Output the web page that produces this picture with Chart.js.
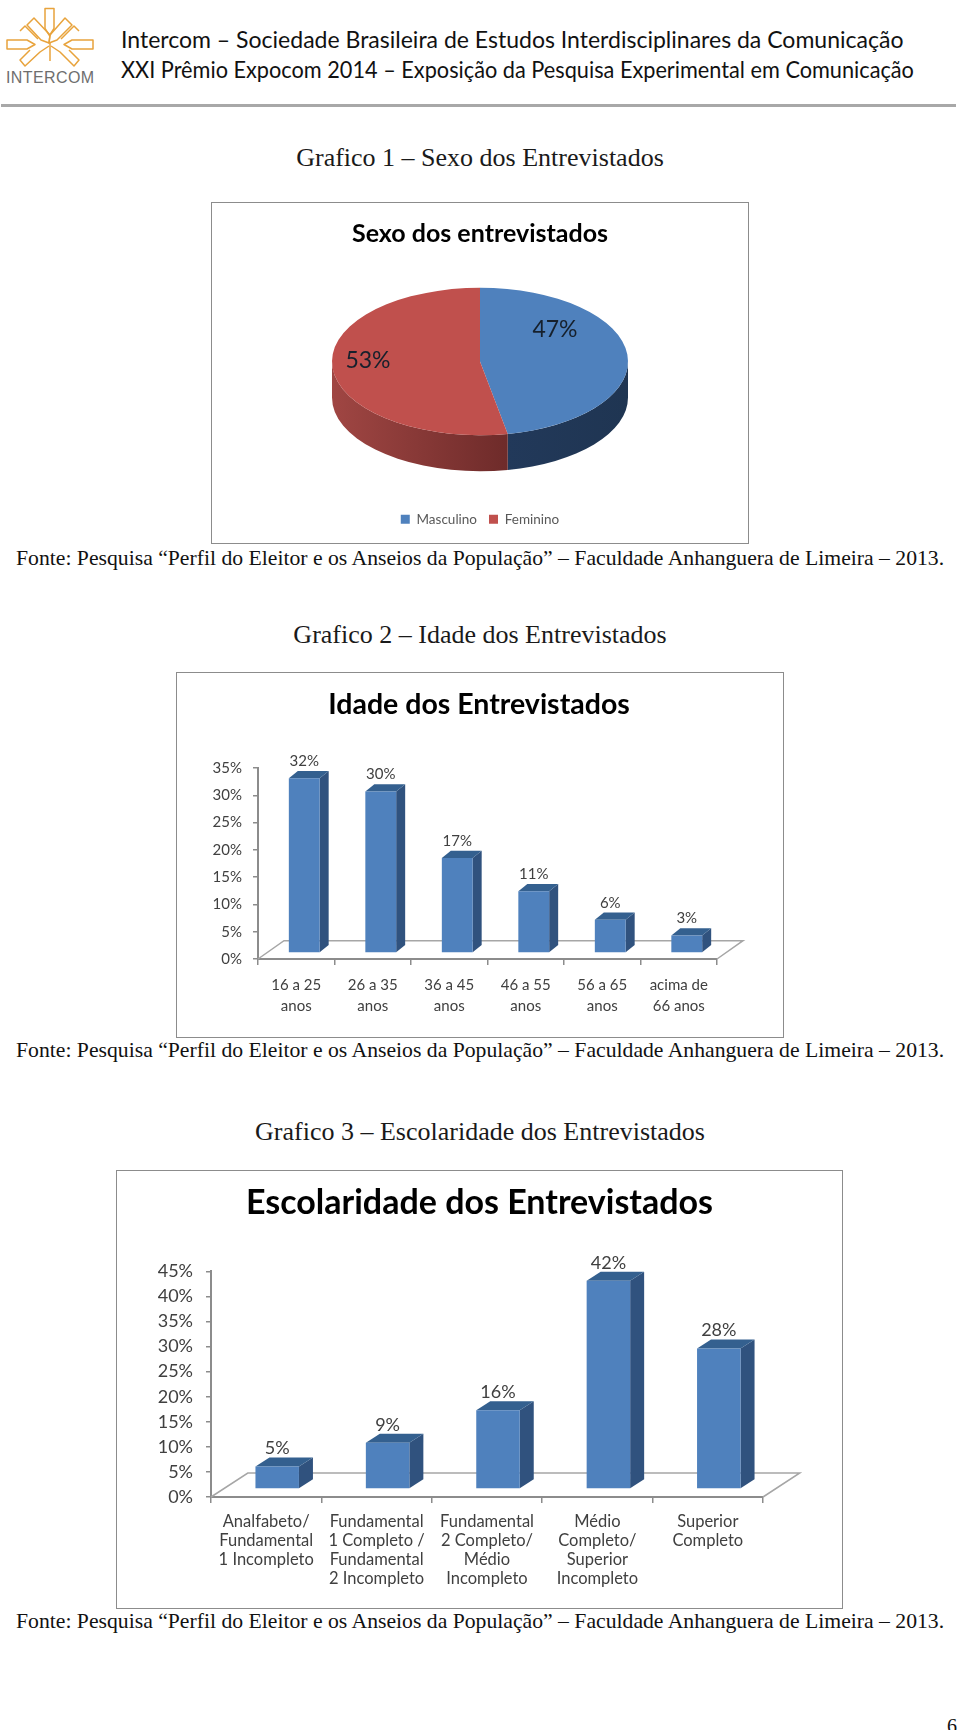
<!DOCTYPE html>
<html>
<head>
<meta charset="utf-8">
<title>Graficos</title>
<script src="https://cdn.jsdelivr.net/npm/chart.js@4"></script>
<style>
  html, body { margin: 0; padding: 0; background: #fff; }
  body { position: relative; width: 960px; height: 1730px; overflow: hidden; }
  .txt { position: absolute; white-space: nowrap; line-height: 1; }
  .head { font-family: Lato, sans-serif; font-size: 22.5px; color: #111; left: 121px; transform-origin: left center; }
  .cap { font-family: "Liberation Serif", serif; font-size: 26px; color: #1a1a1a; left: 0; width: 960px; text-align: center; }
  .src { font-family: "Liberation Serif", serif; font-size: 21.7px; color: #111; left: 16px; }
  .box { position: absolute; border: 1.5px solid #8c8c8c; box-sizing: border-box; background: #fff; }
  .box canvas { position: absolute; left: -1.5px; top: -1.5px; }
  #rule { position: absolute; left: 1px; top: 104px; width: 955px; height: 3px; background: #a8a8a8; }
</style>
</head>
<body>
<svg style="position:absolute;left:0;top:0" width="110" height="70" fill="none" stroke="#e8a33c" stroke-width="1.5" stroke-linejoin="round">
  <path d="M45 8.5h9v20l-4.5 7l-4.5-7z"/>
  <path d="M7 40h20l8 4.5l-8 4.5h-20z"/>
  <path d="M93 40h-21l-8 4.5l8 4.5h21z"/>
  <path d="M27 25l7-7l16 17l-1 8l-8-3z"/>
  <path d="M72 25l-7-7l-15 17l-1 8l8-3z"/>
  <path d="M20 31l5-5l13 13"/>
  <path d="M79 31l-5-5l-13 13"/>
  <path d="M49 46l-9 6l-15 14l-5-6l10-10"/>
  <path d="M51 46l9 6l14 14l5-6l-10-10"/>
  <path d="M50 43v18"/>
</svg>
<div class="txt" style="left:6px;top:69px;font:16px 'Liberation Sans',sans-serif;color:#6e6e6e;letter-spacing:.4px">INTERCOM</div>
<div class="txt head" style="top:29px;transform:scaleX(1.023)">Intercom – Sociedade Brasileira de Estudos Interdisciplinares da Comunicação</div>
<div class="txt head" style="top:59px;transform:scaleX(.965)">XXI Prêmio Expocom 2014 – Exposição da Pesquisa Experimental em Comunicação</div>
<div id="rule"></div>

<div class="txt cap" style="top:145px">Grafico 1 – Sexo dos Entrevistados</div>
<div class="box" style="left:210.5px;top:202px;width:538px;height:342px"><canvas id="c1" width="538" height="342"></canvas></div>
<div class="txt src" style="top:548px">Fonte: Pesquisa “Perfil do Eleitor e os Anseios da População” – Faculdade Anhanguera de Limeira – 2013.</div>

<div class="txt cap" style="top:622px">Grafico 2 – Idade dos Entrevistados</div>
<div class="box" style="left:175.5px;top:672px;width:608px;height:366px"><canvas id="c2" width="608" height="366"></canvas></div>
<div class="txt src" style="top:1040px">Fonte: Pesquisa “Perfil do Eleitor e os Anseios da População” – Faculdade Anhanguera de Limeira – 2013.</div>

<div class="txt cap" style="top:1119px">Grafico 3 – Escolaridade dos Entrevistados</div>
<div class="box" style="left:116px;top:1170px;width:727px;height:439px"><canvas id="c3" width="727" height="439"></canvas></div>
<div class="txt src" style="top:1611px">Fonte: Pesquisa “Perfil do Eleitor e os Anseios da População” – Faculdade Anhanguera de Limeira – 2013.</div>

<div class="txt" style="right:3px;top:1715px;font:20px 'Liberation Serif',serif;color:#111">6</div>

<script>
// values
const sexoLabels = ["Masculino", "Feminino"];
const sexoValues = [47, 53];

const idadeLabels = [["16 a 25", "anos"], ["26 a 35", "anos"], ["36 a 45", "anos"], ["46 a 55", "anos"], ["56 a 65", "anos"], ["acima de", "66 anos"]];
const idadeValues = [32, 29.6, 17.4, 11.3, 6.1, 3.2];

const escolaLabels = [
  ["Analfabeto/", "Fundamental", "1 Incompleto"],
  ["Fundamental", "1 Completo /", "Fundamental", "2 Incompleto"],
  ["Fundamental", "2 Completo/", "Médio", "Incompleto"],
  ["Médio", "Completo/", "Superior", "Incompleto"],
  ["Superior", "Completo"]
];
const escolaValues = [4.5, 9.2, 15.7, 41.5, 28];

const BLUE = "#4f81bd", BLUE_TOP = "#34608f", BLUE_SIDE = "#30527e";
const RED = "#c0504d";
const AXIS = "#8c8c8c", TEXT = "#404040";
const FONT = "Lato, sans-serif";

Chart.defaults.animation = false;
Chart.defaults.responsive = false;
Chart.defaults.font.family = FONT;

// fake 3d for the pie: squash it and draw the rim under it
const pie3d = {
  id: "pie3d",
  beforeDatasetsDraw(chart, args, opts) {
    const arcs = chart.getDatasetMeta(0).data;
    const cx = arcs[0].x, r = arcs[0].outerRadius;
    const ctx = chart.ctx;
    const cols = [["#1f3552", "#22395a"], ["#6e2b2a", "#a04643"]];
    arcs.forEach((a, i) => {
      // only the front half of the rim shows, Chart.js angles start at 3 o'clock
      const s = Math.max(a.startAngle, 0), e = Math.min(a.endAngle, Math.PI);
      if (e <= s) return;
      const g = ctx.createLinearGradient(cx + r * Math.cos(s), 0, cx + r * Math.cos(e), 0);
      g.addColorStop(0, cols[i][0]);
      g.addColorStop(1, cols[i][1]);
      ctx.save();
      ctx.fillStyle = g;
      ctx.beginPath();
      ctx.ellipse(cx, opts.cy, r, r * opts.squash, 0, s, e);
      ctx.ellipse(cx, opts.cy + opts.depth, r, r * opts.squash, 0, e, s, true);
      ctx.closePath();
      ctx.fill();
      ctx.restore();
    });
    ctx.save();
    ctx.translate(cx, opts.cy);
    ctx.scale(1, opts.squash);
    ctx.translate(-cx, -arcs[0].y);
  },
  afterDatasetsDraw(chart, args, opts) {
    const ctx = chart.ctx;
    ctx.restore();
    const a = chart.getDatasetMeta(0).data[0];
    ctx.save();
    ctx.font = opts.labelFont;
    ctx.fillStyle = "#16202c";
    ctx.textAlign = "center";
    ctx.textBaseline = "middle";
    sexoValues.forEach((v, i) => {
      ctx.fillText(v + "%", a.x + opts.labelOffsets[i][0], opts.cy + opts.labelOffsets[i][1]);
    });
    ctx.restore();
  }
};

// fake 3d for the bars: floor behind, sides and tops added to each bar
const bar3d = {
  id: "bar3d",
  afterLayout(chart) {
    // the right padding must not pull the title off centre
    chart.titleBlock.left = 0;
    chart.titleBlock.right = chart.width;
  },
  beforeDatasetsDraw(chart, args, opts) {
    const ctx = chart.ctx, x = chart.scales.x, y0 = chart.scales.y.getPixelForValue(0);
    ctx.save();
    ctx.strokeStyle = "#a6a6a6";
    ctx.lineWidth = 1.5;
    ctx.beginPath();
    ctx.moveTo(x.left, y0);
    ctx.lineTo(x.left + opts.floor[0], y0 - opts.floor[1]);
    ctx.lineTo(x.right + opts.floor[0], y0 - opts.floor[1]);
    ctx.lineTo(x.right, y0);
    ctx.stroke();
    ctx.restore();
    ctx.save();
    ctx.translate(opts.shift[0], -opts.shift[1]);
    chart.getDatasetMeta(0).data.forEach((b) => {
      const l = b.x - b.width / 2, r = b.x + b.width / 2;
      const dx = opts.depth[0], dy = opts.depth[1];
      ctx.fillStyle = BLUE_SIDE;
      ctx.beginPath();
      ctx.moveTo(r, b.y);
      ctx.lineTo(r + dx, b.y - dy);
      ctx.lineTo(r + dx, b.base - dy);
      ctx.lineTo(r, b.base);
      ctx.closePath();
      ctx.fill();
      ctx.fillStyle = BLUE_TOP;
      ctx.beginPath();
      ctx.moveTo(l, b.y);
      ctx.lineTo(l + dx, b.y - dy);
      ctx.lineTo(r + dx, b.y - dy);
      ctx.lineTo(r, b.y);
      ctx.closePath();
      ctx.fill();
    });
  },
  afterDatasetsDraw(chart, args, opts) {
    const ctx = chart.ctx;
    ctx.restore();
    ctx.save();
    ctx.font = opts.labelFont;
    ctx.fillStyle = TEXT;
    ctx.textAlign = "center";
    ctx.textBaseline = "middle";
    const vals = chart.data.datasets[0].data;
    chart.getDatasetMeta(0).data.forEach((b, i) => {
      ctx.fillText(Math.round(vals[i]) + "%", b.x + opts.shift[0], b.y - opts.shift[1] - opts.labelGap);
    });
    ctx.restore();
  }
};

function barChart(id, labels, values, s) {
  return new Chart(document.getElementById(id), {
    type: "bar",
    data: {
      labels: labels,
      datasets: [{ data: values, backgroundColor: BLUE, barPercentage: s.barFrac, categoryPercentage: 1, clip: false }]
    },
    plugins: [bar3d],
    options: {
      layout: { padding: { right: s.padRight } },
      plugins: {
        legend: { display: false },
        tooltip: { enabled: false },
        title: {
          display: true,
          text: s.title,
          color: "#000",
          font: { family: FONT, size: s.titleSize, weight: "bold" },
          padding: s.titlePad
        },
        bar3d: { floor: s.floor, shift: s.shift, depth: s.depth, labelGap: s.labelGap, labelFont: s.valueSize + "px " + FONT }
      },
      scales: {
        x: {
          offset: true,
          afterFit: (a) => { a.height = s.xHeight; },
          border: { color: AXIS, width: 2 },
          grid: { offset: true, drawOnChartArea: false, drawTicks: true, tickLength: 6, color: AXIS, lineWidth: 1.5 },
          ticks: { color: TEXT, font: { size: s.xSize, lineHeight: s.xLine / s.xSize }, padding: s.xPad, maxRotation: 0, autoSkip: false }
        },
        y: {
          min: 0,
          max: s.max,
          afterFit: (a) => { a.width = s.yWidth; },
          border: { color: AXIS, width: 2 },
          grid: { drawOnChartArea: false, tickLength: 5, color: AXIS, lineWidth: 1.5 },
          ticks: { stepSize: 5, color: TEXT, font: { size: s.ySize }, padding: s.yPad, callback: (v) => v + "%" }
        }
      }
    }
  });
}

new Chart(document.getElementById("c1"), {
  type: "pie",
  data: {
    labels: sexoLabels,
    datasets: [{ data: sexoValues, backgroundColor: [BLUE, RED], borderWidth: 0, radius: 148 }]
  },
  plugins: [pie3d],
  options: {
    layout: { padding: { left: 2, bottom: 8 } },
    plugins: {
      tooltip: { enabled: false },
      title: {
        display: true,
        text: "Sexo dos entrevistados",
        color: "#000",
        font: { family: FONT, size: 25, weight: "bold" },
        padding: { top: 17, bottom: 10 }
      },
      legend: {
        position: "bottom",
        labels: { color: "#595959", font: { size: 13.5 }, boxWidth: 9, boxHeight: 9, padding: 12 }
      },
      pie3d: { cy: 159.5, squash: 0.498, depth: 36, labelFont: "23px " + FONT, labelOffsets: [[75, -32], [-112, -1]] }
    }
  }
});

barChart("c2", idadeLabels, idadeValues, {
  title: "Idade dos Entrevistados", titleSize: 28.5, titlePad: { top: 15.5, bottom: 46.3 },
  max: 35, barFrac: 0.403, padRight: 66, yWidth: 83, xHeight: 79,
  floor: [26, 18.3], shift: [8, 6], depth: [9, 7.3], labelGap: 17,
  valueSize: 15, xSize: 15, xLine: 20.6, xPad: 10, ySize: 15, yPad: 11
});

barChart("c3", escolaLabels, escolaValues, {
  title: "Escolaridade dos Entrevistados", titleSize: 34, titlePad: { top: 13, bottom: 47.5 },
  max: 45, barFrac: 0.394, padRight: 80, yWidth: 95, xHeight: 112,
  floor: [36.8, 24], shift: [11, 8], depth: [14, 9], labelGap: 18,
  valueSize: 18, xSize: 16.5, xLine: 19, xPad: 9.5, ySize: 18, yPad: 13
});
</script>
</body>
</html>
